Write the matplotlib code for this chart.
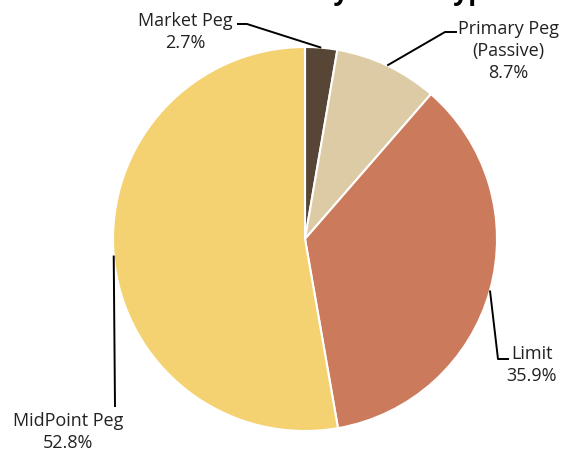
import matplotlib
matplotlib.use('Agg')
import matplotlib.pyplot as plt
import numpy as np

categories = ['Market Peg', 'Primary Peg\n(Passive)', 'Limit', 'MidPoint Peg']
shares = [2.7, 8.7, 35.9, 52.8]
colors = ['#574535', '#DDCBA5', '#CC7A5C', '#F4D272']
title = 'Volume by Order Type'

W, H = 561, 452
plt.rcParams['font.family'] = ['Open Sans', 'DejaVu Sans']

fig = plt.figure(figsize=(W / 100, H / 100), dpi=100)
ax = fig.add_axes([0, 0, 1, 1])


def P(x, ypx):
    return (x, H - ypx)


center = P(305, 240)
radius = 192
wedges, _ = ax.pie(shares, colors=colors, startangle=90, counterclock=False,
                   center=center, radius=radius,
                   wedgeprops=dict(edgecolor='white', linewidth=1.5))
ax.set_xlim(0, W)
ax.set_ylim(0, H)
ax.axis('off')

# label layout: (elbow points in px, text centre in px)
layout = [
    ([(247, 25), (237, 25)], (185, 32)),
    ([(445, 33), (457, 33)], (508, 51)),
    ([(498, 360), (509, 360)], (532, 365)),
    ([(115, 408)], (68, 432)),
]

for w, cat, val, (pts, tpos) in zip(wedges, categories, shares, layout):
    ang = np.deg2rad((w.theta1 + w.theta2) / 2)
    sx = center[0] + radius * np.cos(ang)
    sy = center[1] + radius * np.sin(ang)
    xs = [sx] + [P(*p)[0] for p in pts]
    ys = [sy] + [P(*p)[1] for p in pts]
    ax.plot(xs, ys, color='black', lw=1.4, solid_capstyle='butt')
    ax.text(*P(*tpos), f'{cat}\n{val}%', ha='center', va='center',
            fontsize=13, color='#222222', linespacing=1.27)

ax.text(*P(500, 0), title, ha='right', va='baseline', fontsize=19,
        fontweight='bold', color='black')

fig.savefig('out.png', dpi=100)
